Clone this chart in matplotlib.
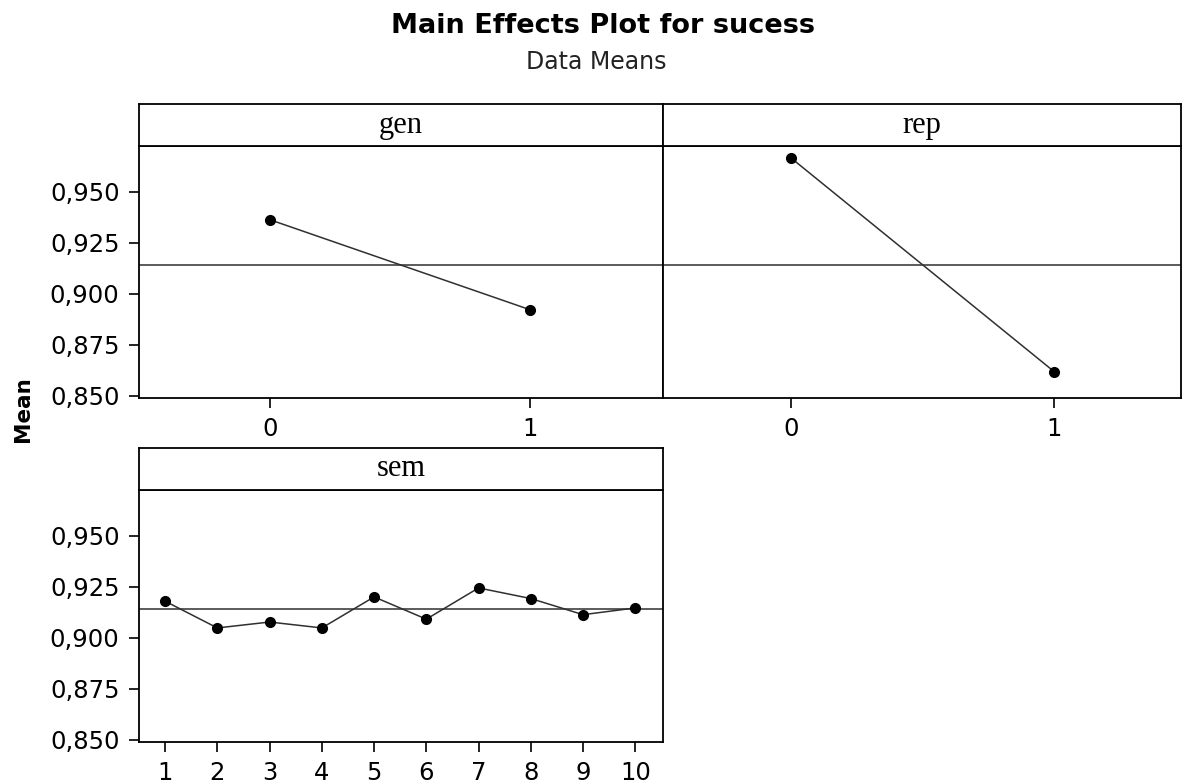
import matplotlib
matplotlib.use("Agg")
import matplotlib.pyplot as plt
from matplotlib.ticker import FuncFormatter

# factor levels and their mean response
gen_levels = [0, 1]
gen_means = [0.9363, 0.8922]
rep_levels = [0, 1]
rep_means = [0.9667, 0.8618]
sem_levels = [1, 2, 3, 4, 5, 6, 7, 8, 9, 10]
sem_means = [0.9180, 0.9049, 0.9078, 0.9049, 0.9201, 0.9092, 0.9245, 0.9193, 0.9114, 0.9147]

grand_mean = sum(gen_means) / len(gen_means)
y_ticks = [0.850, 0.875, 0.900, 0.925, 0.950]

W, H = 1183, 783
fig = plt.figure(figsize=(W / 100, H / 100), dpi=100)


def px_box(x0, y0, x1, y1):
    # pixel box (top-left origin) -> figure fraction rect
    return [x0 / W, 1 - y1 / H, (x1 - x0) / W, (y1 - y0) / H]


comma_fmt = FuncFormatter(lambda v, p: f"{v:.3f}".replace(".", ","))


def panel(data_box, head_box, name, levels, means, xlim, show_y):
    ax = fig.add_axes(px_box(*data_box))
    ax.plot(levels, means, color="#303030", lw=1.1, marker="o", ms=7,
            mfc="black", mec="black", zorder=3)
    ax.axhline(grand_mean, color="#404040", lw=1.2, zorder=2)
    ax.set_xlim(*xlim)
    ax.set_ylim(0.849, 0.9725)
    ax.set_xticks(levels)
    ax.set_xticklabels([str(l) for l in levels])
    ax.tick_params(axis="x", direction="out", length=7, width=1.2, labelsize=17.5,
                   pad=7, colors="black", top=False)
    if show_y:
        ax.set_yticks(y_ticks)
        ax.yaxis.set_major_formatter(comma_fmt)
        ax.tick_params(axis="y", direction="out", length=7, width=1.2,
                       labelsize=17.5, pad=7, right=False)
    else:
        ax.set_yticks([])
    for s in ax.spines.values():
        s.set_linewidth(1.3)
        s.set_color("black")

    hx = fig.add_axes(px_box(*head_box))
    hx.set_xticks([])
    hx.set_yticks([])
    for s in hx.spines.values():
        s.set_linewidth(1.3)
        s.set_color("black")
    hx.text(0.5, 0.5, name, ha="center", va="center", fontsize=22,
            family="Liberation Serif", transform=hx.transAxes)
    return ax


panel((139, 146, 663, 398), (139, 104, 663, 146), "gen",
      gen_levels, gen_means, (-0.505, 1.51), True)
panel((663, 146, 1181, 398), (663, 104, 1181, 146), "rep",
      rep_levels, rep_means, (-0.485, 1.48), False)
panel((139, 490, 663, 742), (139, 448, 663, 490), "sem",
      sem_levels, sem_means, (0.5, 10.53), True)

fig.text(603 / W, 1 - 26 / H, "Main Effects Plot for sucess", ha="center",
         va="center", fontsize=19.5, fontweight="bold")
fig.text(596 / W, 1 - 62 / H, "Data Means", ha="center", va="center",
         fontsize=17, color="#222222")
fig.text(23 / W, 1 - 409 / H, "Mean", ha="center", va="center", rotation=90,
         fontsize=15.5, fontweight="bold")

fig.savefig("out.png", dpi=100, facecolor="white")
